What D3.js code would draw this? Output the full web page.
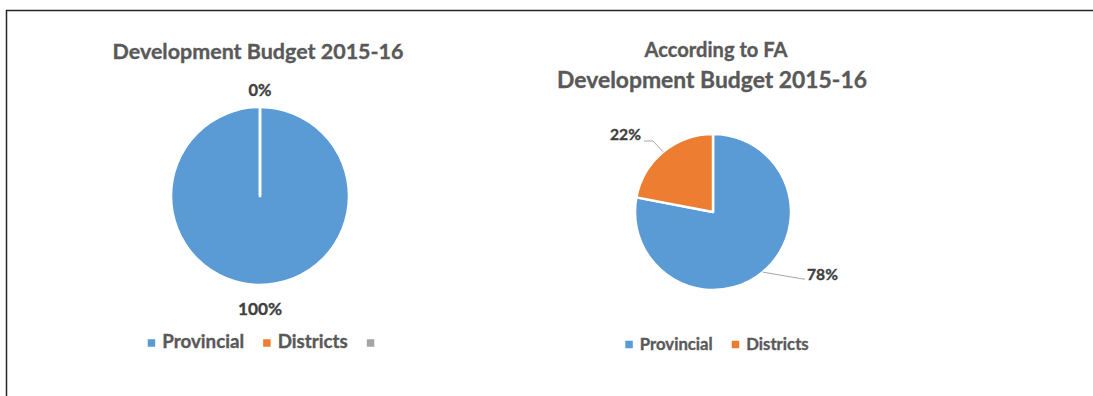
<!DOCTYPE html>
<html>
<head>
<meta charset="utf-8">
<script src="https://cdn.jsdelivr.net/npm/d3@7"></script>
<style>
  html, body { margin: 0; padding: 0; background: #fff; }
  svg { display: block; }
</style>
</head>
<body>
<script>
// ---- data ----
const categories = ["Provincial", "Districts", ""];
const budgetShares = [100, 0, null];          // Development Budget 2015-16
const faCategories = ["Provincial", "Districts"];
const faShares = [78, 22];                    // According to FA
const colors = ["#5B9BD5", "#ED7D31", "#A5A5A5"];

const W = 1093, H = 396;
const FONT = "Lato, 'Open Sans', sans-serif";
const TITLE_COLOR = "#595959", LABEL_COLOR = "#404040";

const svg = d3.select("body").append("svg").attr("width", W).attr("height", H);

// frame
svg.append("path")
  .attr("d", `M6.5,${H} V10.5 H${W}`)
  .attr("fill", "none").attr("stroke", "#262626").attr("stroke-width", 1.5);

// scale a text's font-size so its rendered width equals target
function fit(sel, target) {
  const w = sel.node().getComputedTextLength();
  const fs = parseFloat(sel.attr("font-size"));
  sel.attr("font-size", fs * target / w);
  return sel;
}

function text(x, y, str, size, color, anchor, width) {
  const t = svg.append("text")
    .attr("x", x).attr("y", y)
    .attr("font-family", FONT).attr("font-weight", "bold")
    .attr("font-size", size).attr("fill", color)
    .attr("stroke", color).attr("stroke-width", 0.35)
    .attr("text-anchor", anchor || "middle")
    .text(str);
  if (width) fit(t, width);
  return t;
}

function legend(cx, cy, names, size, textWidth, sq) {
  const g = svg.append("g");
  let x = 0;
  names.forEach((n, i) => {
    g.append("rect").attr("x", x).attr("y", cy - sq / 2).attr("width", sq).attr("height", sq)
      .attr("fill", colors[i]);
    x += sq;
    if (n) {
      const t = g.append("text").attr("x", x + 7).attr("y", cy + 5)
        .attr("font-family", FONT).attr("font-weight", "bold")
        .attr("font-size", size).attr("fill", TITLE_COLOR)
        .attr("stroke", TITLE_COLOR).attr("stroke-width", 0.35).text(n);
      if (i === 0) fit(t, textWidth);
      else t.attr("font-size", g.select("text").attr("font-size"));
      x += 7 + t.node().getComputedTextLength();
    }
    x += 19;
  });
  const total = x - 19;
  g.attr("transform", `translate(${cx - total / 2},0)`);
}

const pie = d3.pie().sort(null).value(d => d == null ? 0 : d);

// ---- left chart ----
{
  const cx = 260, cy = 196, r = 89;
  text(258, 59, "Development Budget 2015-16", 20, TITLE_COLOR, "middle", 291);
  const arcs = pie(budgetShares);
  const arc = d3.arc().innerRadius(0).outerRadius(r);
  const g = svg.append("g").attr("transform", `translate(${cx},${cy})`);
  g.selectAll("path").data(arcs).join("path")
    .attr("d", arc)
    .attr("fill", (d, i) => colors[i])
    .attr("stroke", "#fff").attr("stroke-width", 2.5).attr("stroke-linejoin", "round");
  // labels outside the rim, along each slice's mid-angle
  const labelGap = [24, 17];
  arcs.forEach((d, i) => {
    if (budgetShares[i] == null) return;
    const a = (d.startAngle + d.endAngle) / 2;
    const rr = r + labelGap[i];
    const x = Math.sin(a) * rr, y = -Math.cos(a) * rr;
    text(cx + x, cy + y + 6, budgetShares[i] + "%", 16, LABEL_COLOR, "middle",
      i === 0 ? 44 : 23);
  });
  legend(cx + 1, 343, categories, 16, 82, 7.5);
}

// ---- right chart ----
{
  const cx = 713, cy = 212, r = 78;
  text(716, 57, "According to FA", 16, TITLE_COLOR, "middle", 143);
  text(712, 88, "Development Budget 2015-16", 21, TITLE_COLOR, "middle", 310);
  const arcs = pie(faShares);
  const arc = d3.arc().innerRadius(0).outerRadius(r);
  const g = svg.append("g").attr("transform", `translate(${cx},${cy})`);
  g.selectAll("path").data(arcs).join("path")
    .attr("d", arc)
    .attr("fill", (d, i) => colors[i])
    .attr("stroke", "#fff").attr("stroke-width", 2.5).attr("stroke-linejoin", "round");

  // label placement relative to pie centre: elbow, line end, text anchor point
  const place = [
    { elbow: [90, 67], end: [92, 67], at: [94, 68], anchor: "start" },
    { elbow: [-60, -71], end: [-69, -71], at: [-72, -72], anchor: "end" }
  ];
  arcs.forEach((d, i) => {
    const a = (d.startAngle + d.endAngle) / 2;
    const p = place[i];
    const sx = Math.sin(a) * r, sy = -Math.cos(a) * r;
    g.append("polyline")
      .attr("points", [[sx, sy], p.elbow, p.end].map(q => q.join(",")).join(" "))
      .attr("fill", "none").attr("stroke", "#A6A6A6").attr("stroke-width", 1);
    text(cx + p.at[0], cy + p.at[1], faShares[i] + "%", 15, LABEL_COLOR, p.anchor, 31);
  });
  legend(717, 344.5, faCategories, 15, 73, 7.5);
}
</script>
</body>
</html>
